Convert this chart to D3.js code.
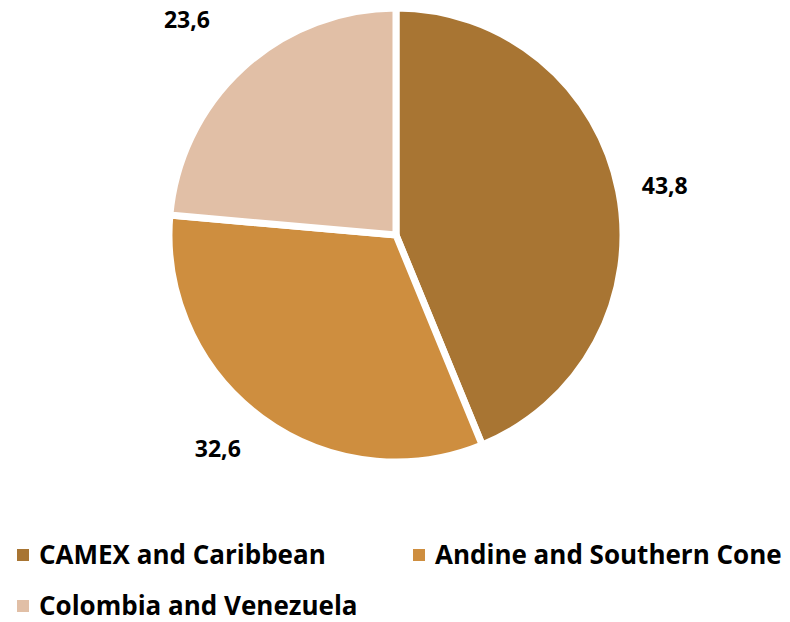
<!DOCTYPE html>
<html>
<head>
<meta charset="utf-8">
<script src="https://cdn.jsdelivr.net/npm/d3@7.9.0/dist/d3.min.js"></script>
<style>
  body { margin: 0; background: #fff; }
  text { font-family: "Open Sans", "Liberation Sans", sans-serif; font-weight: bold; fill: #000; }
</style>
</head>
<body>
<svg width="790" height="622"></svg>
<script>
const categories = ['CAMEX and Caribbean', 'Andine and Southern Cone', 'Colombia and Venezuela'];
const values = [43.8, 32.6, 23.6];
const valueLabels = ['43,8', '32,6', '23,6'];
const palette = ['#A87533', '#CE8E3F', '#E1BFA6'];

const svg = d3.select('svg');
const cx = 396, cy = 235, radius = 227;

let colors = d3.scaleOrdinal().domain(categories).range(palette);

let data = categories.map((c, i) => ({ label: c, value: values[i], text: valueLabels[i] }));
let pie = d3.pie().value(d => d.value).sort(null);
let arcData = pie(data);
let arc = d3.arc().innerRadius(0).outerRadius(radius);

let g = svg.append('g').attr('transform', `translate(${cx},${cy})`);

g.selectAll('path')
  .data(arcData)
  .join('path')
  .attr('d', arc)
  .attr('fill', d => colors(d.data.label))
  .attr('stroke', '#fff')
  .attr('stroke-width', 7)
  .attr('stroke-linejoin', 'miter');

// value labels outside the pie
let labelArc = d3.arc().innerRadius(radius + 50).outerRadius(radius + 50);
const labelNudge = [[-3, 4], [-14, -10], [-22, -12]];
g.selectAll('text.val')
  .data(arcData)
  .join('text')
  .attr('class', 'val')
  .attr('transform', (d, i) => {
    let [x, y] = labelArc.centroid(d);
    return `translate(${x + labelNudge[i][0]},${y + labelNudge[i][1]})`;
  })
  .attr('text-anchor', 'middle')
  .attr('dominant-baseline', 'central')
  .style('font-size', '23px')
  .text(d => d.data.text);

// legend
const legendPos = [[17, 555], [413, 555], [17, 606]];
let legend = svg.append('g');
data.forEach((d, i) => {
  let item = legend.append('g').attr('transform', `translate(${legendPos[i][0]},${legendPos[i][1]})`);
  item.append('rect')
    .attr('x', 0).attr('y', -6)
    .attr('width', 12).attr('height', 12)
    .attr('fill', colors(d.label));
  item.append('text')
    .attr('x', 22).attr('y', 9)
    .style('font-size', '26px')
    .text(d.label);
});
</script>
</body>
</html>
